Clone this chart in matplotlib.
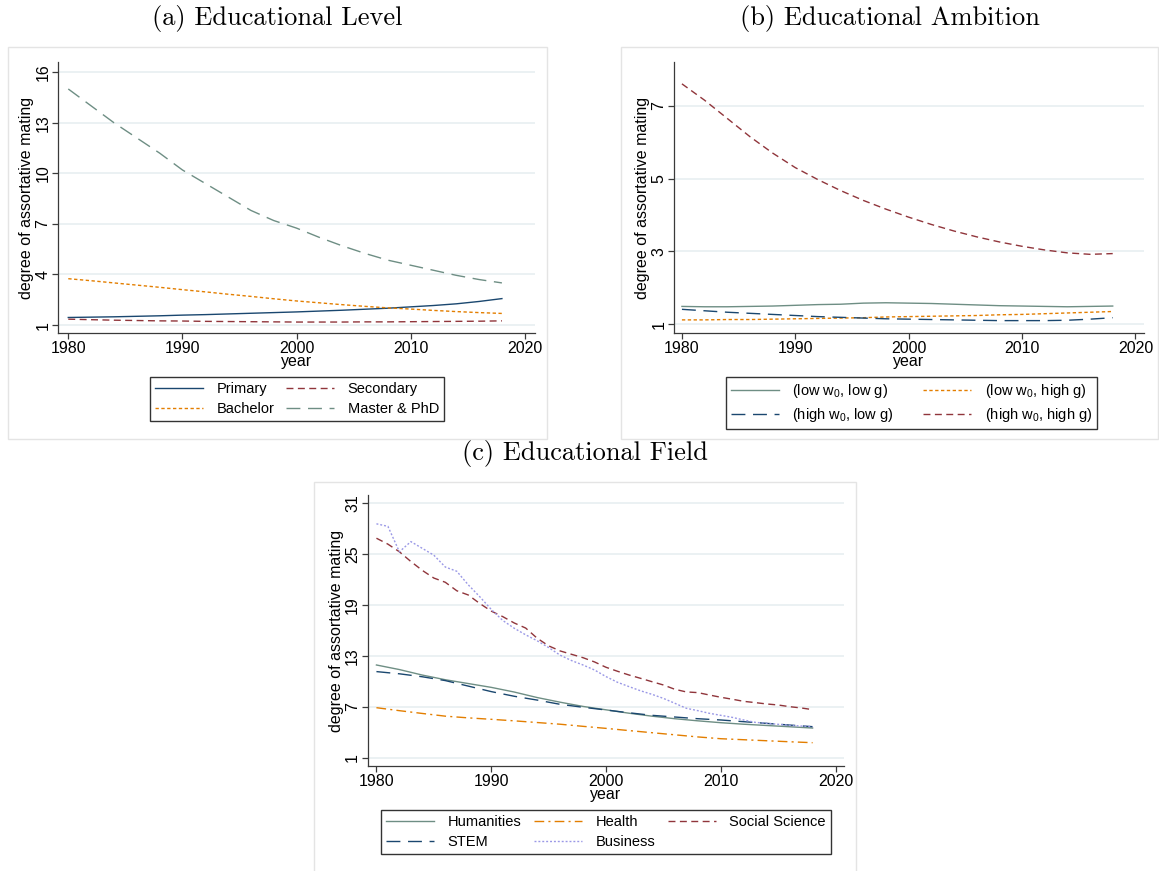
import matplotlib.pyplot as plt
from matplotlib.patches import Rectangle
from matplotlib.lines import Line2D

plt.rcParams['font.family'] = ['Liberation Sans', 'DejaVu Sans']

W, H = 1159, 871

# colours (Stata s2color-like)
NAVY = '#1a476f'
MAROON = '#90353b'
ORANGE = '#e37e00'
TEAL = '#6e8e84'
LAVENDER = '#9a98e6'

# ---- data ----
years2 = list(range(1980, 2019, 2))
years1 = list(range(1980, 2019))

# (a) educational level
primary = [1.45, 1.47, 1.49, 1.52, 1.55, 1.59, 1.62, 1.66, 1.70, 1.74,
           1.78, 1.83, 1.88, 1.94, 2.00, 2.08, 2.16, 2.26, 2.40, 2.57]
secondary = [1.35, 1.32, 1.29, 1.27, 1.25, 1.24, 1.22, 1.21, 1.20, 1.19,
             1.18, 1.18, 1.18, 1.19, 1.19, 1.20, 1.21, 1.22, 1.23, 1.25]
bachelor = [3.75, 3.63, 3.50, 3.37, 3.24, 3.10, 2.97, 2.83, 2.70, 2.56,
            2.43, 2.32, 2.21, 2.11, 2.02, 1.95, 1.87, 1.80, 1.74, 1.69]
master_phd = [15.0, 14.0, 13.0, 12.1, 11.2, 10.2, 9.4, 8.6, 7.8, 7.2,
              6.75, 6.2, 5.7, 5.25, 4.85, 4.55, 4.25, 3.95, 3.7, 3.5]

# (b) educational ambition
low_low = [1.49, 1.48, 1.48, 1.49, 1.50, 1.52, 1.54, 1.55, 1.58, 1.59,
           1.58, 1.57, 1.55, 1.53, 1.51, 1.50, 1.49, 1.48, 1.49, 1.50]
low_high = [1.12, 1.12, 1.13, 1.13, 1.14, 1.15, 1.16, 1.17, 1.18, 1.20,
            1.21, 1.22, 1.23, 1.24, 1.26, 1.27, 1.29, 1.31, 1.33, 1.35]
high_low = [1.41, 1.37, 1.33, 1.30, 1.27, 1.24, 1.21, 1.19, 1.17, 1.15,
            1.14, 1.13, 1.12, 1.11, 1.10, 1.10, 1.10, 1.11, 1.14, 1.18]
high_high = [7.6, 7.15, 6.65, 6.15, 5.7, 5.3, 4.97, 4.67, 4.4, 4.16,
             3.94, 3.74, 3.56, 3.4, 3.26, 3.14, 3.04, 2.96, 2.92, 2.94]

# (c) educational field
humanities = [11.94, 11.4, 10.75, 10.2, 9.75, 9.3, 8.75, 8.1, 7.55, 7.05,
              6.65, 6.25, 5.9, 5.6, 5.35, 5.13, 4.95, 4.8, 4.65, 4.5]
stem = [11.16, 10.9, 10.55, 10.1, 9.45, 8.8, 8.25, 7.8, 7.3, 6.95,
        6.63, 6.3, 6.0, 5.8, 5.6, 5.45, 5.25, 5.05, 4.85, 4.66]
health = [6.9, 6.55, 6.22, 5.9, 5.7, 5.53, 5.35, 5.15, 4.95, 4.7,
          4.46, 4.2, 3.95, 3.7, 3.45, 3.24, 3.12, 3.0, 2.88, 2.77]
social_science = [26.9, 26.2, 25.3, 24.15, 23.1, 22.2, 21.7, 20.7, 20.2, 19.2,
                  18.3, 17.65, 16.9, 16.3, 15.1, 14.2, 13.6, 13.2, 12.8, 12.3,
                  11.67, 11.2, 10.76, 10.37, 9.97, 9.58, 9.07, 8.76, 8.68, 8.4,
                  8.13, 7.9, 7.65, 7.5, 7.34, 7.22, 7.02, 6.87, 6.67]
business = [28.6, 28.3, 25.3, 26.5, 25.7, 24.9, 23.5, 23.0, 21.4, 20.0,
            18.5, 17.2, 16.28, 15.5, 14.8, 14.0, 13.1, 12.46, 11.94, 11.35,
            10.57, 9.9, 9.39, 8.9, 8.48, 8.0, 7.42, 6.83, 6.55, 6.24,
            6.0, 5.76, 5.45, 5.17, 5.06, 4.94, 4.82, 4.74, 4.66]

W0 = 'w$_{\\mathregular{0}}$'

fig = plt.figure(figsize=(W / 100, H / 100), dpi=100)


def px_axes(x0, x1, y0, y1):
    return fig.add_axes([x0 / W, 1 - y1 / H, (x1 - x0) / W, (y1 - y0) / H])


def panel_box(x0, x1, y0, y1):
    fig.patches.append(Rectangle((x0 / W, 1 - y1 / H), (x1 - x0) / W, (y1 - y0) / H,
                                 transform=fig.transFigure, fill=False,
                                 edgecolor='#e4e4e4', lw=1.0))


def style_axes(ax, yticks, xlim, ylim):
    ax.set_xlim(*xlim)
    ax.set_ylim(*ylim)
    ax.set_xticks([1980, 1990, 2000, 2010, 2020])
    ax.set_yticks(yticks)
    ax.grid(axis='y', color='#e8eff1', lw=1.2)
    ax.set_axisbelow(True)
    for s in ['top', 'right']:
        ax.spines[s].set_visible(False)
    for s in ['left', 'bottom']:
        ax.spines[s].set_color('#3a3a3a')
        ax.spines[s].set_linewidth(0.9)
    ax.tick_params(direction='out', length=4, width=0.9, color='#3a3a3a',
                   labelsize=11.5, pad=1.5)
    for lab in ax.get_yticklabels():
        lab.set_rotation(90)
        lab.set_va('center')
    ax.set_xlabel('year', fontsize=11.5, labelpad=-1)
    ax.set_ylabel('degree of assortative mating', fontsize=11.5, labelpad=1)


def add_legend(ax, handles, labels, ncol, x0, x1, ytop):
    leg = ax.legend(handles, labels, ncol=ncol, loc='upper left',
                    bbox_to_anchor=(x0 / W, 1 - ytop / H, (x1 - x0) / W, 0.001),
                    bbox_transform=fig.transFigure, mode='expand',
                    fancybox=False, framealpha=1, edgecolor='#333333',
                    fontsize=10.5, handlelength=3.3, handletextpad=0.9,
                    labelspacing=0.4, borderpad=0.35, borderaxespad=0,
                    columnspacing=1.5)
    leg.get_frame().set_linewidth(1.0)


def ln(color, dashes=None, lw=1.0):
    h = Line2D([], [], color=color, lw=lw)
    if dashes:
        h.set_dashes(dashes)
    return h


D_SHORT = (5, 3.2)
D_FINE = (2.4, 1.8)
D_LONG = (10, 5.5)
D_DOT = (1.4, 1.4)
D_DASHDOT = (7, 3, 1.5, 3)

# ---- panel (a) ----
panel_box(8, 547, 47, 439)
ax = px_axes(58, 535, 62, 333)
styles_a = [(primary, NAVY, None), (secondary, MAROON, D_SHORT),
            (bachelor, ORANGE, D_FINE), (master_phd, TEAL, D_LONG)]
for vals, c, d in styles_a:
    l, = ax.plot(years2, vals, color=c, lw=1.0)
    if d:
        l.set_dashes(d)
style_axes(ax, [1, 4, 7, 10, 13, 16], (1979.1, 2020.9), (0.53, 16.6))
add_legend(ax, [ln(NAVY), ln(ORANGE, D_FINE), ln(MAROON, D_SHORT), ln(TEAL, D_LONG)],
           ['Primary', 'Bachelor', 'Secondary', 'Master & PhD'], 2, 150, 444, 378)

# ---- panel (b) ----
panel_box(621, 1158, 47, 439)
ax = px_axes(674, 1144, 62, 333)
styles_b = [(low_low, TEAL, None), (low_high, ORANGE, D_FINE),
            (high_low, NAVY, D_LONG), (high_high, MAROON, D_SHORT)]
for vals, c, d in styles_b:
    l, = ax.plot(years2, vals, color=c, lw=1.0)
    if d:
        l.set_dashes(d)
style_axes(ax, [1, 3, 5, 7], (1979.3, 2020.76), (0.76, 8.2))
add_legend(ax, [ln(TEAL), ln(NAVY, D_LONG), ln(ORANGE, D_FINE), ln(MAROON, D_SHORT)],
           ['(low ' + W0 + ', low g)', '(high ' + W0 + ', low g)',
            '(low ' + W0 + ', high g)', '(high ' + W0 + ', high g)'],
           2, 726, 1097, 378)

# ---- panel (c) ----
panel_box(314, 856, 482, 872)
ax = px_axes(367.6, 843.6, 495, 766)
ax.plot(years2, humanities, color=TEAL, lw=1.0)
l, = ax.plot(years2, health, color=ORANGE, lw=1.0)
l.set_dashes(D_DASHDOT)
l, = ax.plot(years1, social_science, color=MAROON, lw=1.0)
l.set_dashes(D_SHORT)
l, = ax.plot(years2, stem, color=NAVY, lw=1.0)
l.set_dashes(D_LONG)
l, = ax.plot(years1, business, color=LAVENDER, lw=1.0)
l.set_dashes(D_DOT)
style_axes(ax, [1, 7, 13, 19, 25, 31], (1979.23, 2020.7), (0.02, 32.0))
add_legend(ax, [ln(TEAL), ln(NAVY, D_LONG), ln(ORANGE, D_DASHDOT),
                ln(LAVENDER, D_DOT), ln(MAROON, D_SHORT)],
           ['Humanities', 'STEM', 'Health', 'Business', 'Social Science'],
           3, 381, 831, 811)

# ---- panel titles ----
tkw = dict(family='cmr10', fontsize=19, ha='center', va='center')
fig.text(277 / W, 1 - 19 / H, '(a) Educational Level', **tkw)
fig.text(890 / W, 1 - 19 / H, '(b) Educational Ambition', **tkw)
fig.text(585 / W, 1 - 453 / H, '(c) Educational Field', **tkw)

fig.savefig('out.png', dpi=100, facecolor='white')
